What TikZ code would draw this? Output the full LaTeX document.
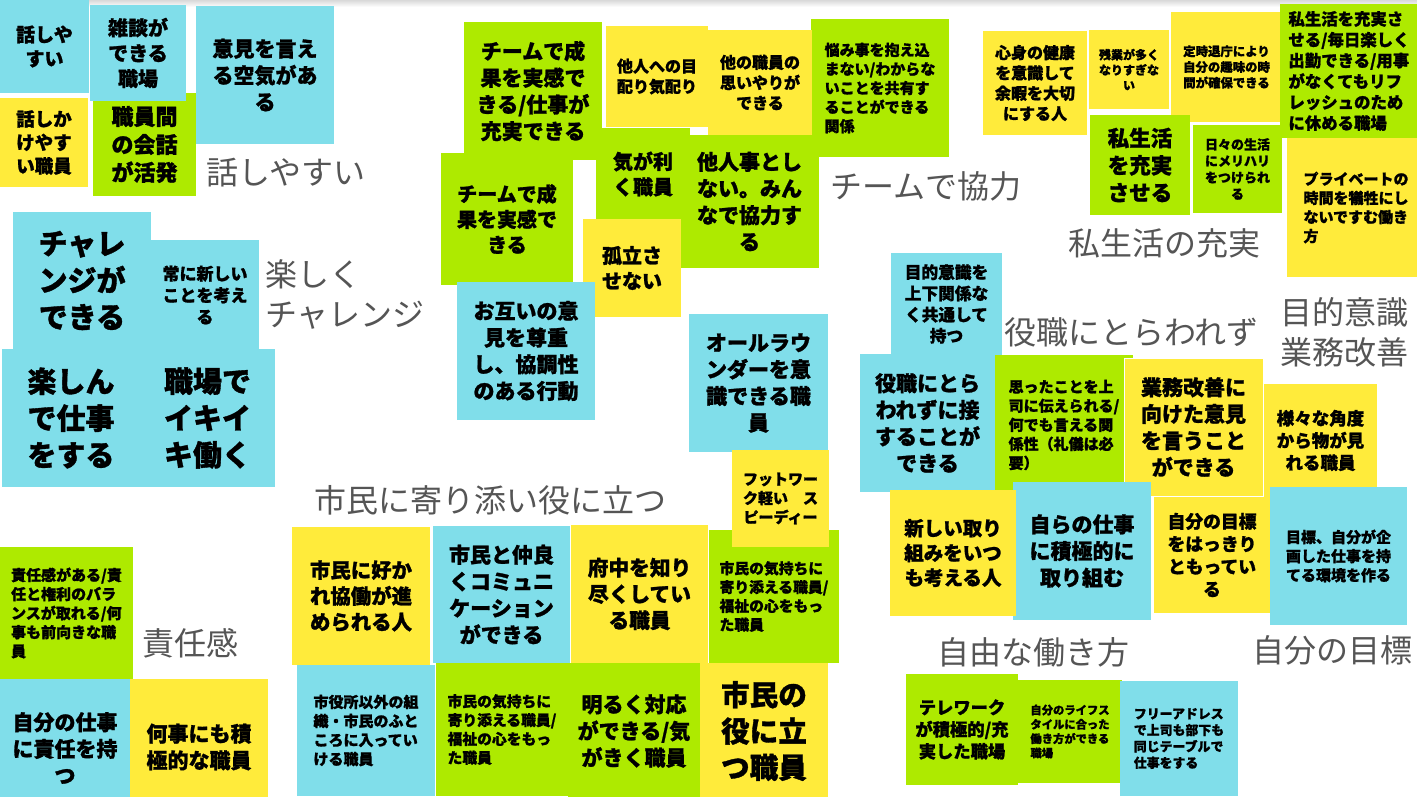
\documentclass[tikz,border=0pt]{standalone}
\usepackage{fontspec}
\setmainfont{Noto Sans CJK JP}[BoldFeatures={FakeBold=1.2}]
\definecolor{cyc}{HTML}{80DEEA}
\definecolor{yec}{HTML}{FFEB3B}
\definecolor{grc}{HTML}{AEEA00}
\definecolor{labc}{HTML}{555555}
\tikzset{
  card/.style={anchor=north west, inner sep=0pt, outer sep=0pt, align=center, text=black},
  cy/.style={fill=cyc}, ye/.style={fill=yec}, gr/.style={fill=grc},
  lft/.style={align=left},
  lab/.style={anchor=west, inner sep=0pt, text=labc, font=\fontsize{32}{40}\selectfont, align=left},
}
\newcommand\card[8]{\node[card,#2,minimum width=#5pt,minimum height=#6pt,font=\fontsize{#7}{\fpeval{round(1.27*#7,2)}}\selectfont\bfseries] (#1) at (#3,-#4) {#8};}
\begin{document}
\begin{tikzpicture}[x=1pt,y=1pt]
\useasboundingbox (0,0) rectangle (1417,-796);
\fill[white] (0,0) rectangle (1417,-796);
\clip (0,0) rectangle (1417,-796);
\shade[top color=black!15, bottom color=white] (0,0) rectangle (1417,-7);
% top-left
\card{c1}{cy}{0}{0}{89}{93}{19}{話しや\\すい}
\card{c4}{ye}{0}{98}{88}{89}{18.5}{話しか\\けやす\\い職員}
\card{c5}{gr}{93}{93}{103}{103}{22}{職員間\\の会話\\が活発}
\card{c2}{cy}{90}{5}{96}{96}{20}{雑談が\\できる\\職場}
\card{c3}{cy}{196}{6}{138}{138}{21}{意見を言え\\る空気があ\\る}
% challenge
\card{c6}{cy}{13}{212}{138}{137}{29}{チャレ\\ンジが\\できる}
\card{c7}{cy}{151}{240}{108}{110}{17}{常に新しい\\ことを考え\\る}
\card{c8}{cy}{2}{349}{138}{138}{29}{楽しん\\で仕事\\をする}
\card{c9}{cy}{140}{349}{135}{138}{29}{職場で\\イキイ\\キ働く}
% team
\card{c10}{gr}{464}{22}{138}{138}{21}{チームで成\\果を実感で\\きる/仕事が\\充実できる}
\card{c15}{gr}{680}{135}{139}{133}{21}{他人事とし\\ない。みん\\なで協力す\\る}
\card{c14}{gr}{596}{128}{94}{92}{20}{気が利\\く職員}
\card{c13}{gr,lft}{811}{19}{138}{138}{15}{悩み事を抱え込\\まない/わからな\\いことを共有す\\ることができる\\関係}
\card{c11}{ye}{606}{26}{102}{101}{16}{他人への目\\配り気配り}
\card{c12}{ye}{708}{30}{104}{105}{16}{他の職員の\\思いやりが\\できる}
\card{c16}{gr}{441}{153}{132}{132}{20}{チームで成\\果を実感で\\きる}
\card{c17}{ye}{583}{219}{98}{98}{20}{孤立さ\\せない}
\card{c18}{cy}{457}{282}{138}{138}{21}{お互いの意\\見を尊重\\し、協調性\\のある行動}
\card{c19}{cy}{689}{314}{139}{138}{21}{オールラウ\\ンダーを意\\識できる職\\員}
% private life
\card{c21}{ye}{983}{31}{104}{104}{16}{心身の健康\\を意識して\\余暇を大切\\にする人}
\card{c22}{ye}{1089}{30}{80}{79}{12}{残業が多く\\なりすぎな\\い}
\card{c23}{ye}{1171}{12}{111}{110}{12.4}{定時退庁により\\自分の趣味の時\\間が確保できる}
\card{c24}{gr,lft}{1280}{4}{138}{134}{16.4}{私生活を充実さ\\せる/毎日楽しく\\出勤できる/用事\\がなくてもリフ\\レッシュのため\\に休める職場}
\card{c25}{gr}{1090}{115}{100}{100}{21.5}{私生活\\を充実\\させる}
\card{c26}{gr}{1193}{125}{89}{88}{13}{日々の生活\\にメリハリ\\をつけられ\\る}
\card{c27}{ye,lft}{1287}{138}{138}{139}{15}{プライベートの\\時間を犠牲にし\\ないですむ働き\\方}
% right middle
\card{c28}{cy}{891}{253}{111}{102}{16.7}{目的意識を\\上下関係な\\く共通して\\持つ}
\card{c29}{cy}{860}{354}{135}{138}{21}{役職にとら\\われずに接\\することが\\できる}
\card{c30}{gr,lft}{995}{355}{138}{140}{15}{思ったことを上\\司に伝えられる/\\何でも言える関\\係性（礼儀は必\\要）}
\card{c31}{ye,draw=white,line width=1pt}{1124}{358}{139}{138}{21}{業務改善に\\向けた意見\\を言うこと\\ができる}
\card{c32}{ye}{1264}{384}{113}{113}{17.5}{様々な角度\\から物が見\\れる職員}
\card{c34}{cy}{1013}{482}{138}{138}{21}{自らの仕事\\に積極的に\\取り組む}
\card{c33}{ye}{890}{490}{126}{126}{19.5}{新しい取り\\組みをいつ\\も考える人}
\card{c35}{ye}{1154}{497}{116}{116}{17.8}{自分の目標\\をはっきり\\ともってい\\る}
\card{c36}{cy}{1270}{487}{137}{138}{15}{目標、自分が企\\画した仕事を持\\てる環境を作る}
\card{c37}{gr}{906}{674}{112}{111}{17.3}{テレワーク\\が積極的/充\\実した職場}
\card{c38}{gr,lft}{1018}{680}{104}{103}{11.3}{自分のライフス\\タイルに合った\\働き方ができる\\職場}
\card{c39}{cy,lft}{1120}{681}{118}{115}{12.9}{フリーアドレス\\で上司も部下も\\同じテーブルで\\仕事をする}
% citizens
\card{c40}{ye}{292}{527}{138}{138}{20.4}{市民に好か\\れ協働が進\\められる人}
\card{c41}{cy}{433}{526}{137}{137}{21}{市民と仲良\\くコミュニ\\ケーション\\ができる}
\card{c42}{ye}{571}{525}{137}{138}{20.7}{府中を知り\\尽くしてい\\る職員}
\card{c43}{gr,lft}{709}{530}{130}{133}{14.8}{市民の気持ちに\\寄り添える職員/\\福祉の心をもっ\\た職員}
\card{c20}{ye}{732}{450}{97}{97}{15}{フットワー\\ク軽い　ス\\ピーディー}
\card{c44}{cy,lft}{297}{665}{138}{131}{15}{市役所以外の組\\織・市民のふと\\ころに入ってい\\ける職員}
\card{c45}{gr,lft}{436}{663}{132}{133}{14.8}{市民の気持ちに\\寄り添える職員/\\福祉の心をもっ\\た職員}
\card{c46}{gr}{568}{663}{132}{136}{21}{明るく対応\\ができる/気\\がきく職員}
\card{c47}{ye}{700}{663}{128}{136}{28.6}{市民の\\役に立\\つ職員}
% responsibility
\card{c48}{gr,lft}{0}{547}{133}{132}{15}{責任感がある/責\\任と権利のバラ\\ンスが取れる/何\\事も前向きな職\\員}
\card{c49}{cy}{0}{679}{130}{138}{21}{自分の仕事\\に責任を持\\つ}
\card{c50}{ye}{130}{679}{138}{136}{21}{何事にも積\\極的な職員}
% group labels
\node[lab] (L1) at (206,-172.5) {話しやすい};
\node[lab] (L2) at (265,-294) {楽しく\\チャレンジ};
\node[lab] (L3) at (830,-186.5) {チームで協力};
\node[lab] (L4) at (1068,-243.5) {私生活の充実};
\node[lab] (L5) at (1004,-332.5) {役職にとらわれず};
\node[lab] (L6) at (1280,-332) {目的意識\\業務改善};
\node[lab] (L7) at (314,-500) {市民に寄り添い役に立つ};
\node[lab] (L8) at (142,-643.5) {責任感};
\node[lab] (L9) at (937,-652.5) {自由な働き方};
\node[lab] (L10) at (1252,-650.5) {自分の目標};
\end{tikzpicture}
\end{document}
